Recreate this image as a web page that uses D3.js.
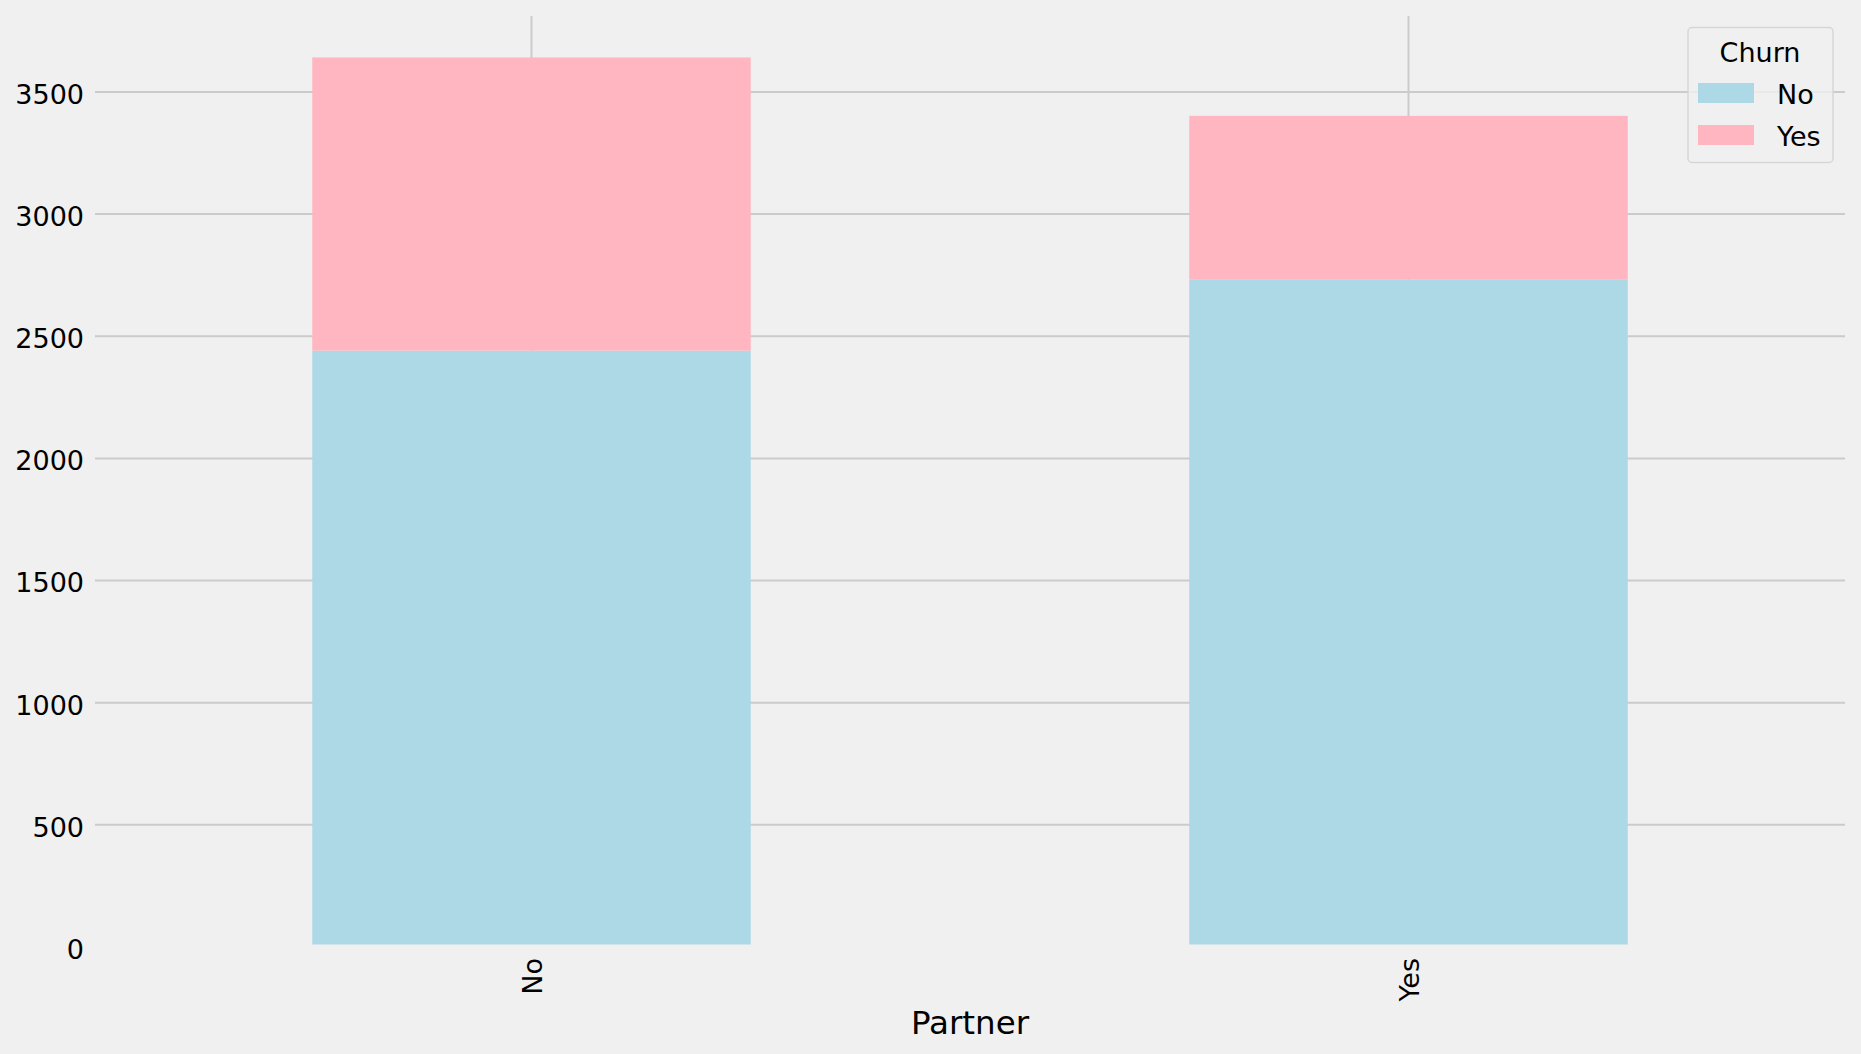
<!DOCTYPE html>
<html>
<head>
<meta charset="utf-8">
<script src="https://cdn.jsdelivr.net/npm/d3@7"></script>
<style>
  html, body { margin: 0; padding: 0; background: #f0f0f0; }
  svg { display: block; font-family: "DejaVu Sans", sans-serif; }
</style>
</head>
<body>
<svg id="chart" width="1861" height="1054"></svg>
<script>
// ---- data ----
const categories = ["No", "Yes"];          // Partner
const churnNo = [2441, 2733];
const churnYes = [1200, 669];
const seriesNames = ["No", "Yes"];         // Churn
const seriesColors = ["#add8e6", "#ffb6c1"];
const yTicks = [0, 500, 1000, 1500, 2000, 2500, 3000, 3500];
const xLabel = "Partner";
const legendTitle = "Churn";

// ---- layout ----
const W = 1861, H = 1054;
const mLeft = 93, mRight = 1847, mTop = 13, mBottom = 947;
const svg = d3.select("#chart");
svg.append("rect").attr("width", W).attr("height", H).attr("fill", "#f0f0f0");

const totals = categories.map((c, i) => churnNo[i] + churnYes[i]);
const yMax = d3.max(totals) * 1.05;
const y = d3.scaleLinear().domain([0, yMax]).range([mBottom, mTop]);
const x = d3.scaleLinear().domain([-0.5, categories.length - 0.5]).range([mLeft, mRight]);
const barW = 0.5;

// grid (the baseline gridline is clipped at the axes edge in the original)
const grid = svg.append("g");
grid.selectAll("line.h").data(yTicks.filter(d => d > 0)).join("line")
  .attr("x1", mLeft + 2).attr("x2", mRight - 2)
  .attr("y1", d => y(d)).attr("y2", d => y(d))
  .attr("stroke", "#cbcbcb").attr("stroke-width", 2);
grid.selectAll("line.v").data(categories).join("line")
  .attr("x1", (d, i) => x(i)).attr("x2", (d, i) => x(i))
  .attr("y1", mTop + 3).attr("y2", mBottom - 3)
  .attr("stroke", "#cbcbcb").attr("stroke-width", 2);

// stacked bars
const rows = categories.map((c, i) => ({ cat: c, idx: i, No: churnNo[i], Yes: churnYes[i] }));
const stack = d3.stack().keys(seriesNames)(rows);
svg.append("g").selectAll("g").data(stack).join("g")
  .attr("fill", (d, i) => seriesColors[i])
  .selectAll("rect").data(d => d).join("rect")
  .attr("x", d => x(d.data.idx - barW / 2))
  .attr("width", d => x(d.data.idx + barW / 2) - x(d.data.idx - barW / 2))
  .attr("y", d => y(d[1]))
  .attr("height", d => y(d[0]) - y(d[1]) - (d[0] === 0 ? 2.5 : 0));

// y axis labels
const yAxis = d3.axisLeft(y).tickValues(yTicks).tickSize(0).tickPadding(0).tickFormat(d3.format("d"));
const gy = svg.append("g").attr("transform", `translate(84,0)`).call(yAxis);
gy.select(".domain").remove();
gy.selectAll("text").attr("font-size", 27).attr("fill", "#000")
  .attr("font-family", "DejaVu Sans").attr("dy", "0.42em");

// x axis labels (rotated)
const xAxis = d3.axisBottom(x).tickValues(categories.map((c, i) => i))
  .tickFormat(i => categories[i]).tickSize(0).tickPadding(0);
const gx = svg.append("g").attr("transform", `translate(0,958)`).call(xAxis);
gx.select(".domain").remove();
gx.selectAll("text").attr("font-size", 27).attr("fill", "#000")
  .attr("font-family", "DejaVu Sans")
  .attr("transform", "rotate(-90)")
  .attr("text-anchor", "end").attr("x", 0).attr("y", 0).attr("dy", "0.36em");

// x label
svg.append("text").attr("x", (mLeft + mRight) / 2).attr("y", 1034)
  .attr("text-anchor", "middle").attr("font-size", 32.5).attr("fill", "#000")
  .text(xLabel);

// legend
const lg = svg.append("g");
lg.append("rect").attr("x", 1688).attr("y", 27.5).attr("width", 145).attr("height", 135)
  .attr("rx", 4).attr("ry", 4)
  .attr("fill", "#f0f0f0").attr("fill-opacity", 0.8)
  .attr("stroke", "#d6d6d6").attr("stroke-width", 1.5);
lg.append("text").attr("x", 1760).attr("y", 62).attr("text-anchor", "middle")
  .attr("font-size", 27).attr("fill", "#000").text(legendTitle);
seriesNames.forEach((s, i) => {
  lg.append("rect").attr("x", 1698).attr("y", 83 + i * 42).attr("width", 56).attr("height", 20)
    .attr("fill", seriesColors[i]);
  lg.append("text").attr("x", 1777).attr("y", 103.5 + i * 42)
    .attr("font-size", 27).attr("fill", "#000").text(s);
});
</script>
</body>
</html>
